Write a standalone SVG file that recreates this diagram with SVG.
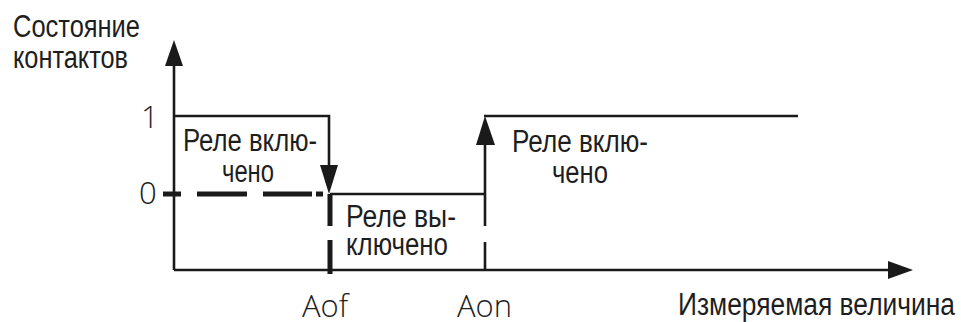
<svg xmlns="http://www.w3.org/2000/svg" width="961" height="322" viewBox="0 0 961 322">
<style>
.ln{fill:none;stroke:#1a1a1a;stroke-width:2.6;stroke-linecap:butt}
.dsh{fill:none;stroke:#1a1a1a;stroke-width:5}
.ah{fill:#1a1a1a}
.t{font-family:"Liberation Sans",Arial,sans-serif;font-size:31px;fill:#1e1e1e}
.tl{font-family:"Open Sans Light","Lato Light","Roboto Light","Open Sans",sans-serif;font-weight:300;font-size:31px;fill:#1e1e1e}
</style>
<rect width="961" height="322" fill="#fff"/>
<g id="connectors">
<path class="ln" d="M174 270V62"/>
<polygon class="ah" points="174,40 165,66 183,66"/>
<path class="ln" d="M174 270H890"/>
<polygon class="ah" points="913,270 888,261 888,279"/>
<path class="ln" d="M174 116H329V168"/>
<polygon class="ah" points="329,194 320,165 338,165"/>
<path class="dsh" d="M163 194H181M197 194H247M263 194H312M316 194H323"/>
<path class="dsh" d="M330 194V226M330 240V274"/>
<path class="ln" d="M330 194H486"/>
<path class="ln" d="M485 271V242M485 226V140"/>
<polygon class="ah" points="485,116 476,145 495,145"/>
<path class="ln" d="M484 116H798"/>
</g>
<g id="axis-y-label">
<text class="t" x="13" y="37" textLength="127" lengthAdjust="spacingAndGlyphs">Состояние</text>
<text class="t" x="13" y="68" textLength="115" lengthAdjust="spacingAndGlyphs">контактов</text>
</g>
<g id="tick-1"><text class="tl" x="141" y="128">1</text></g>
<g id="tick-0"><text class="tl" x="139" y="204">0</text></g>
<g id="state-on-left">
<text class="t" x="183" y="151" textLength="134" lengthAdjust="spacingAndGlyphs">Реле вклю-</text>
<text class="t" x="222" y="182" textLength="52" lengthAdjust="spacingAndGlyphs">чено</text>
</g>
<g id="state-off">
<text class="t" x="346" y="227" textLength="110" lengthAdjust="spacingAndGlyphs">Реле вы-</text>
<text class="t" x="346" y="255" textLength="102" lengthAdjust="spacingAndGlyphs">ключено</text>
</g>
<g id="state-on-right">
<text class="t" x="512" y="152" textLength="136" lengthAdjust="spacingAndGlyphs">Реле вклю-</text>
<text class="t" x="552" y="183" textLength="56" lengthAdjust="spacingAndGlyphs">чено</text>
</g>
<g id="label-aof"><text class="tl" x="302" y="317">Aof</text></g>
<g id="label-aon"><text class="tl" x="457" y="317">Aon</text></g>
<g id="axis-x-label">
<text class="t" x="678" y="315" textLength="277" lengthAdjust="spacingAndGlyphs">Измеряемая величина</text>
</g>
</svg>
